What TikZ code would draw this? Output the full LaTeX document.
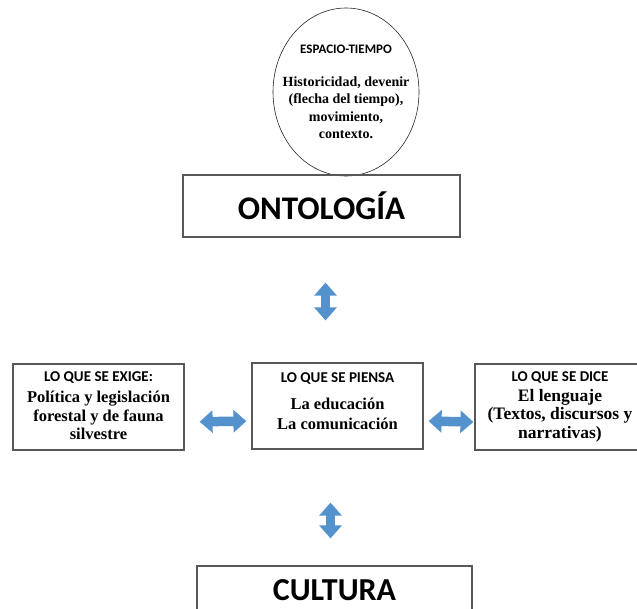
\documentclass[tikz,border=0pt]{standalone}
\usepackage{fontspec}
\setmainfont{Liberation Serif}
\newfontfamily\hdrfont{Carlito}
\usetikzlibrary{shapes.geometric,arrows.meta}
\definecolor{boxgray}{RGB}{88,88,88}
\definecolor{arrowblue}{RGB}{84,146,206}
\newcommand\hd{\hdrfont\bfseries\fontsize{15}{17}\selectfont}
\newcommand\ehd{\hdrfont\bfseries\fontsize{13}{15}\selectfont}

\begin{document}
\begin{tikzpicture}[x=1pt, y=-1pt, thick,
        main/.style = {draw=boxgray, line width=1.2pt, text=black, align=center, inner sep=0pt,
                font=\bfseries\fontsize{16.5}{18.5}\selectfont, minimum width=171pt, minimum height=86pt},
        oval/.style = {main, ellipse, draw=black!85, line width=0.6pt, inner xsep=-14pt,
                font=\bfseries\fontsize{14}{17.5}\selectfont, minimum width=146pt, minimum height=168pt},
        title/.style = {main, font=\hdrfont\bfseries\fontsize{33}{38}\selectfont, minimum width=277pt, minimum height=62pt},
        fat/.style = {draw=arrowblue, line width=9.5pt, {Triangle[length=13pt,width=22pt]}-{Triangle[length=13pt,width=22pt]}}]
    \useasboundingbox (0,0) rectangle (637,608);
    \clip (0,0) rectangle (637,608);
    % espacio-tiempo and the two titles
    \node[oval] (1) at (346,92) {{\ehd ESPACIO-TIEMPO}\\[15pt] Historicidad, devenir\\ (flecha del tiempo),\\ movimiento,\\ contexto.};
    \node[title] (2) at (321.5,206) {ONTOLOGÍA};
    \node[title, minimum width=275pt, minimum height=48pt, font=\hdrfont\bfseries\fontsize{32}{36}\selectfont] (6) at (334.5,590) {CULTURA};
    % the three boxes
    \node[main] (3) at (98.5,407) {{\hd LO QUE SE EXIGE:}\\[3pt] Política y legislación\\ forestal y de fauna\\ silvestre\\[-16pt]\mbox{}};
    \node[main] (4) at (337.5,406) {{\hd LO QUE SE PIENSA}\\[8pt] La educación\\[1.5pt] La comunicación\\[-9pt]\mbox{}};
    \node[main, minimum width=170pt, font=\bfseries\fontsize{17.5}{18.8}\selectfont] (5) at (560,407) {{\hd LO QUE SE DICE}\\[1pt] El lenguaje\\ (Textos, discursos y\\ narrativas)};
    % fat arrows
    \draw[fat, shorten <=45pt, shorten >=42pt] ([xshift=4pt]2.south) -- ([xshift=4pt]2.south |- 4.north);
    \draw[fat, shorten <=53pt, shorten >=27pt] ([xshift=-7pt]4.south) -- ([xshift=-7pt]4.south |- 6.north);
    \draw[fat, shorten <=15pt, shorten >=5pt] ([yshift=-15pt]3.east) -- ([yshift=-15pt]4.west);
    \draw[fat, shorten <=5pt, shorten >=1pt] ([yshift=-15pt]4.east) -- ([yshift=-15pt]5.west);
\end{tikzpicture}
\end{document}
